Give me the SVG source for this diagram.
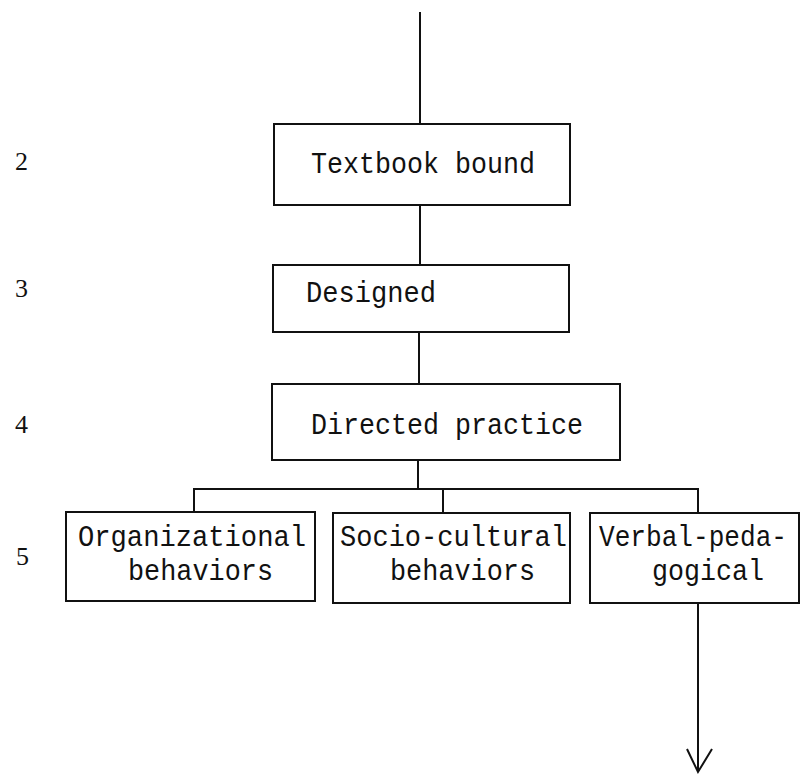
<svg xmlns="http://www.w3.org/2000/svg" width="801" height="775" viewBox="0 0 801 775">
<style>
.box{fill:#fff;stroke:#111;stroke-width:2}
.t{font-family:"Liberation Mono","Courier New",monospace;font-size:29px;fill:#111}
.lvl{font-family:"Liberation Serif","Times New Roman",serif;font-size:26px;fill:#111}
.c{stroke:#111;stroke-width:2;fill:none}
</style>
<rect width="801" height="775" fill="#fff"/>
<g id="connectors">
<line class="c" x1="420" y1="12" x2="420" y2="124"/>
<line class="c" x1="420" y1="205" x2="420" y2="265"/>
<line class="c" x1="419" y1="332" x2="419" y2="384"/>
<line class="c" x1="418" y1="460" x2="418" y2="489"/>
<polyline class="c" points="194,512 194,489 698,489 698,513"/>
<line class="c" x1="443" y1="489" x2="443" y2="513"/>
<line class="c" x1="698" y1="603" x2="698" y2="771"/>
<polyline class="c" points="687,749 698,772 712,749"/>
</g>
<g id="levels">
<text class="lvl" x="15" y="170">2</text>
<text class="lvl" x="15" y="297">3</text>
<text class="lvl" x="15" y="433">4</text>
<text class="lvl" x="16" y="565">5</text>
</g>
<g id="textbook-bound">
<rect class="box" x="274" y="124" width="296" height="81"/>
<text class="t" x="311" y="173" textLength="224" lengthAdjust="spacingAndGlyphs">Textbook bound</text>
</g>
<g id="designed">
<rect class="box" x="273" y="265" width="296" height="67"/>
<text class="t" x="306" y="302" textLength="130" lengthAdjust="spacingAndGlyphs">Designed</text>
</g>
<g id="directed-practice">
<rect class="box" x="272" y="384" width="348" height="76"/>
<text class="t" x="311" y="434" textLength="272" lengthAdjust="spacingAndGlyphs">Directed practice</text>
</g>
<g id="organizational">
<rect class="box" x="66" y="512" width="249" height="89"/>
<text class="t" x="78" y="546" textLength="228" lengthAdjust="spacingAndGlyphs">Organizational</text>
<text class="t" x="128" y="580" textLength="145" lengthAdjust="spacingAndGlyphs">behaviors</text>
</g>
<g id="socio-cultural">
<rect class="box" x="333" y="513" width="237" height="90"/>
<text class="t" x="340" y="546" textLength="227" lengthAdjust="spacingAndGlyphs">Socio-cultural</text>
<text class="t" x="390" y="580" textLength="145" lengthAdjust="spacingAndGlyphs">behaviors</text>
</g>
<g id="verbal-pedagogical">
<rect class="box" x="590" y="513" width="209" height="90"/>
<text class="t" x="599" y="546" textLength="188" lengthAdjust="spacingAndGlyphs">Verbal-peda-</text>
<text class="t" x="652" y="580" textLength="112" lengthAdjust="spacingAndGlyphs">gogical</text>
</g>
</svg>
